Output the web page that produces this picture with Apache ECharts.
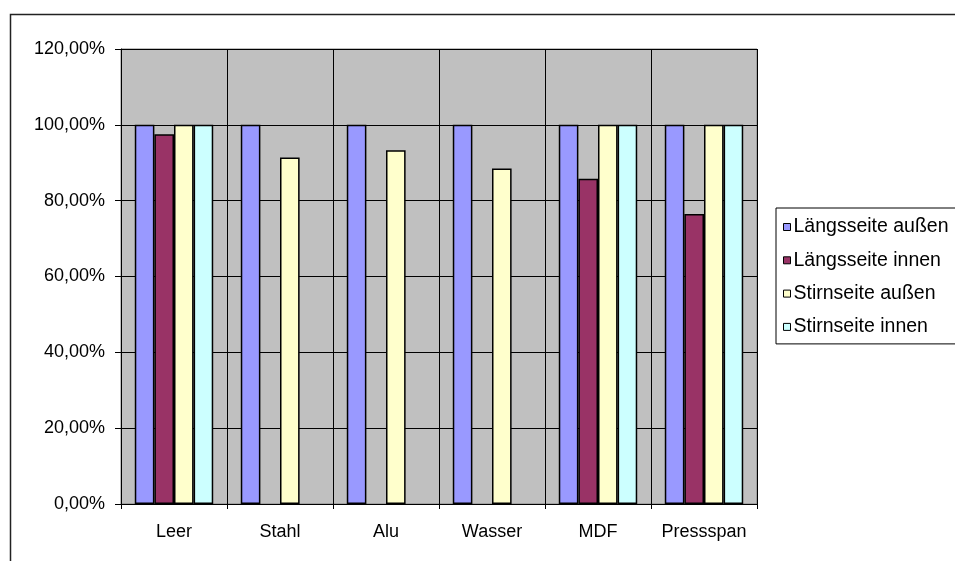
<!DOCTYPE html>
<html>
<head>
<meta charset="utf-8">
<script src="https://cdn.jsdelivr.net/npm/echarts@6/dist/echarts.min.js"></script>
<style>
  html, body { margin: 0; padding: 0; background: #fff; }
  #chart { width: 955px; height: 561px; }
</style>
</head>
<body>
<div id="chart"></div>
<script>
// Kategorien (Füllung) und Messwerte in Prozent
const categories = ['Leer', 'Stahl', 'Alu', 'Wasser', 'MDF', 'Pressspan'];
const laengsAussen = [100, 100, 100, 100, 100, 100];
const laengsInnen = [97.5, null, null, null, 85.8, 76.5];
const stirnAussen = [100, 91.4, 93.3, 88.5, 100, 100];
const stirnInnen = [100, null, null, null, 100, 100];
const seriesNames = ['Längsseite außen', 'Längsseite innen', 'Stirnseite außen', 'Stirnseite innen'];
const seriesColors = ['#9999FF', '#993366', '#FFFFCC', '#CCFFFF'];

const font = "'Liberation Sans', Arial, sans-serif";
const chart = echarts.init(document.getElementById('chart'), null, { renderer: 'canvas' });

const seriesData = [laengsAussen, laengsInnen, stirnAussen, stirnInnen];

chart.setOption({
  animation: false,
  backgroundColor: '#ffffff',
  textStyle: { fontFamily: font },
  graphic: [{
    type: 'rect',
    shape: { x: 10.5, y: 14.5, width: 1000, height: 600 },
    style: { fill: 'none', stroke: '#222', lineWidth: 1.5 },
    silent: true
  }],
  grid: {
    left: 121, right: 198, top: 49, bottom: 57,
    show: true,
    backgroundColor: '#C0C0C0',
    borderColor: '#808080',
    borderWidth: 1
  },
  legend: {
    orient: 'vertical',
    left: 776,
    top: 208,
    padding: [8, 40, 6, 7],
    itemWidth: 7,
    itemHeight: 7,
    itemGap: 11.3,
    icon: 'rect',
    backgroundColor: '#ffffff',
    borderColor: '#000',
    borderWidth: 1,
    itemStyle: { borderWidth: 1, borderColor: '#000' },
    textStyle: { fontFamily: font, fontSize: 19.5, color: '#000', lineHeight: 22, padding: [0, 0, 0, -2] },
    data: seriesNames
  },
  xAxis: {
    type: 'category',
    data: categories,
    axisLine: { lineStyle: { color: '#000', width: 1 } },
    axisTick: { show: true, interval: 0, length: 5, lineStyle: { color: '#000' } },
    axisLabel: { interval: 0, color: '#000', fontSize: 18, fontFamily: font, margin: 19 },
    splitLine: { show: true, interval: 0, lineStyle: { color: '#000', width: 1 } }
  },
  yAxis: {
    type: 'value',
    min: 0, max: 120, interval: 20,
    axisLine: { show: true, lineStyle: { color: '#000', width: 1 } },
    axisTick: { show: true, length: 6, lineStyle: { color: '#000' } },
    axisLabel: {
      color: '#000', fontSize: 18, fontFamily: font, margin: 16,
      formatter: v => v.toFixed(2).replace('.', ',') + '%'
    },
    splitLine: { show: true, lineStyle: { color: '#000', width: 1 } }
  },
  series: seriesNames.map((name, i) => ({
    name: name,
    type: 'bar',
    data: seriesData[i],
    barGap: '0%',
    barCategoryGap: '26%',
    itemStyle: { color: seriesColors[i], borderColor: '#000', borderWidth: 1.5 }
  }))
});
</script>
</body>
</html>
